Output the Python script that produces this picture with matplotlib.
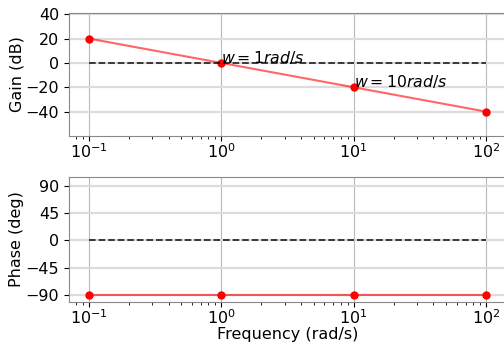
import matplotlib
matplotlib.use("Agg")
import matplotlib.pyplot as plt
import numpy as np

# bode plot of G(s) = 1/s
w = [0.1, 1, 10, 100]
gain_db = [20, 0, -20, -40]
phase_deg = [-90, -90, -90, -90]
ref_line = [0, 0, 0, 0]
gain_ticks = [-40, -20, 0, 20, 40]
phase_ticks = [-90, -45, 0, 45, 90]

plt.rcParams['font.size'] = 11.5

fig = plt.figure(figsize=(5.04, 3.43), dpi=100)
ax1 = fig.add_axes([0.137, 0.6035, 0.867, 0.3586])
ax2 = fig.add_axes([0.137, 0.1195, 0.867, 0.3644])

def grids(ax):
    ax.grid(axis='y', color='#dcdcdc', linewidth=1.6)
    ax.grid(axis='x', which='major', color='#b8b8b8', linewidth=0.8)
    ax.set_axisbelow(True)
    for s in ax.spines.values():
        s.set_color('#888888')
    ax.tick_params(axis='x', pad=1)

ax1.semilogx(w, gain_db, color='r', alpha=0.6, lw=1.5)
ax1.semilogx(w, gain_db, 'ro', ms=5)
ax1.semilogx(w, ref_line, 'k--', alpha=0.8, lw=1.3)
ax1.text(w[1], gain_db[1], r'$w = 1 rad/s$', fontsize=11.3)
ax1.text(w[2], gain_db[2], r'$w = 10 rad/s$', fontsize=11.3)
ax1.set_ylim(-60, 41)
ax1.set_yticks(gain_ticks)
ax1.set_ylabel('Gain (dB)', labelpad=1)
grids(ax1)

ax2.semilogx(w, phase_deg, color='r', alpha=0.6, lw=1.5)
ax2.semilogx(w, phase_deg, 'ro', ms=5)
ax2.semilogx(w, ref_line, 'k--', alpha=0.8, lw=1.3)
ax2.set_ylim(-101, 104)
ax2.set_yticks(phase_ticks)
ax2.set_ylabel('Phase (deg)', labelpad=1)
ax2.set_xlabel('Frequency (rad/s)', labelpad=0)
grids(ax2)

fig.savefig('out.png', dpi=100)
